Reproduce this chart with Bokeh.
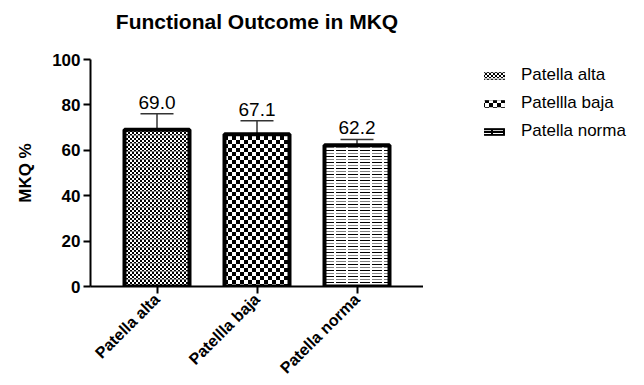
import base64, struct, zlib
from bokeh.plotting import figure
from bokeh.layouts import row
from bokeh.models import (ColumnDataSource, FactorRange, Range1d, Whisker, TeeHead,
                          Legend, LegendItem, ImageURLTexture, Title)
from bokeh.core.properties import value
from bokeh.embed import file_html
from bokeh.resources import INLINE

categories = ["Patella alta", "Patellla baja", "Patella norma"]
tick_labels = ["Patella alta", "Patellla baja", "Patella norma"]
means = [69.0, 67.1, 62.2]
sd_upper = [7.1, 5.9, 2.6]
y_ticks = [0, 20, 40, 60, 80, 100]
title_text = "Functional Outcome in MKQ"

FONT = "Liberation Sans"


def png_url(grid, fg, bg, mid):
    """grid: list of strings; '#' = fg, '.' = bg, '+' = mid colour."""
    h, w = len(grid), len(grid[0])
    cmap = {"#": fg, ".": bg, "+": mid}
    raw = b"".join(b"\x00" + b"".join(bytes(cmap[ch]) for ch in r) for r in grid)

    def chunk(t, d):
        c = struct.pack(">I", len(d)) + t + d
        return c + struct.pack(">I", zlib.crc32(t + d) & 0xffffffff)
    data = (b"\x89PNG\r\n\x1a\n" + chunk(b"IHDR", struct.pack(">IIBBBBB", w, h, 8, 6, 0, 0, 0))
            + chunk(b"IDAT", zlib.compress(raw)) + chunk(b"IEND", b""))
    return "data:image/png;base64," + base64.b64encode(data).decode()


fine_grid = ["##..##..", "##..##..", "..##..##", "..##..##",
             "##..##..", "##..##..", "..##..##", "++++++++"]
coarse_grid = ["####....", "####....", "####....", "####....",
               "....####", "....####", "....####", "....####"]
hl_grid = ["##########..", "............", "............",
           "++++++++++..", "............", "............"]

BLACK, WHITE, GREY = (0, 0, 0, 255), (255, 255, 255, 255), (130, 130, 130, 255)
grids = [fine_grid, coarse_grid, hl_grid]
keys = ["alta", "baja", "norma"]
bar_extra = {k: ImageURLTexture(url=png_url(g, BLACK, WHITE, GREY)) for k, g in zip(keys, grids)}
leg_extra = {k: ImageURLTexture(url=png_url(g, WHITE, BLACK, (200, 200, 200, 255)))
             for k, g in zip(keys, grids)}

src = ColumnDataSource(dict(
    cat=categories, val=means,
    upper=[m + s for m, s in zip(means, sd_upper)],
    lbl=["%.1f" % m for m in means],
))

p = figure(x_range=FactorRange(*categories, range_padding=0.11, range_padding_units="percent"),
           y_range=Range1d(0, 100),
           width=423, height=385, output_backend="svg", toolbar_location=None,
           min_border_left=90, min_border_right=0, min_border_top=59, min_border_bottom=99)
p.outline_line_color = None
p.grid.visible = False

# spacer (nearest the frame) then the real title above it
p.add_layout(Title(text=" ", text_font_size="13px", standoff=10), "above")
p.add_layout(Title(text=title_text, align="center", text_font=FONT, text_font_size="21px",
                   text_font_style="bold", text_color="black", standoff=0), "above")

for c, m, k in zip(categories, means, keys):
    s = ColumnDataSource(dict(cat=[c], val=[m]))
    p.vbar(x="cat", top="val", width=0.65, source=s,
           fill_color="white", line_color="black", line_width=4,
           hatch_pattern=value(k), hatch_extra=bar_extra)

wh = Whisker(base="cat", upper="upper", lower="val", source=src, dimension="height",
             line_color="#333333", line_width=1.5,
             upper_head=TeeHead(size=33, line_color="#333333", line_width=1.5),
             lower_head=None)
p.add_layout(wh)

p.text(x="cat", y="upper", text="lbl", source=src, text_align="center",
       text_baseline="bottom", y_offset=-5, text_font=value(FONT),
       text_font_size="19px", text_color="black")

p.yaxis.ticker = y_ticks
p.yaxis.axis_label = "MKQ %"
for ax in (p.xaxis[0], p.yaxis[0]):
    ax.axis_line_width = 2
    ax.axis_line_color = "black"
    ax.major_tick_line_width = 2
    ax.major_tick_line_color = "black"
    ax.major_tick_out = 7
    ax.major_tick_in = 0
    ax.minor_tick_line_color = None
    ax.major_label_text_font = FONT
    ax.major_label_text_font_style = "bold"
    ax.major_label_text_color = "black"
p.yaxis.major_label_text_font_size = "17px"
p.xaxis.major_label_text_font_size = "16px"
p.yaxis.major_label_standoff = 3
p.yaxis.axis_label_text_font = FONT
p.yaxis.axis_label_text_font_size = "17px"
p.yaxis.axis_label_text_font_style = "bold"
p.yaxis.axis_label_text_color = "black"
p.yaxis.axis_label_standoff = 14
p.xaxis.major_label_orientation = 0.785398
p.xaxis.major_label_overrides = dict(zip(categories, tick_labels))
p.xaxis.major_label_standoff = 3

# legend panel: hidden proxy bars, only their legend swatches are shown
pl = figure(x_range=FactorRange(*categories), y_range=Range1d(0, 100),
            width=221, height=385, output_backend="svg", toolbar_location=None,
            min_border_left=53, min_border_top=59, min_border_right=0, min_border_bottom=99)
pl.axis.visible = False
pl.grid.visible = False
pl.outline_line_color = None
items = []
for name, c, m, k in zip(tick_labels, categories, means, keys):
    s = ColumnDataSource(dict(cat=[c], val=[m]))
    r = pl.vbar(x="cat", top="val", width=0.65, source=s,
                fill_color="black", line_color=None,
                hatch_pattern=value(k), hatch_extra=leg_extra)
    r.visible = False
    items.append(LegendItem(label=name, renderers=[r]))

legend = Legend(items=items, location=(5, 145), padding=0, margin=0,
                border_line_color=None, background_fill_alpha=0,
                inactive_fill_alpha=0,
                glyph_width=26, glyph_height=9, label_standoff=14, spacing=8,
                label_text_font=FONT, label_text_font_size="17px",
                label_text_color="black", label_height=20)
pl.add_layout(legend)

open("out.html", "w").write(file_html(row(p, pl), INLINE))
